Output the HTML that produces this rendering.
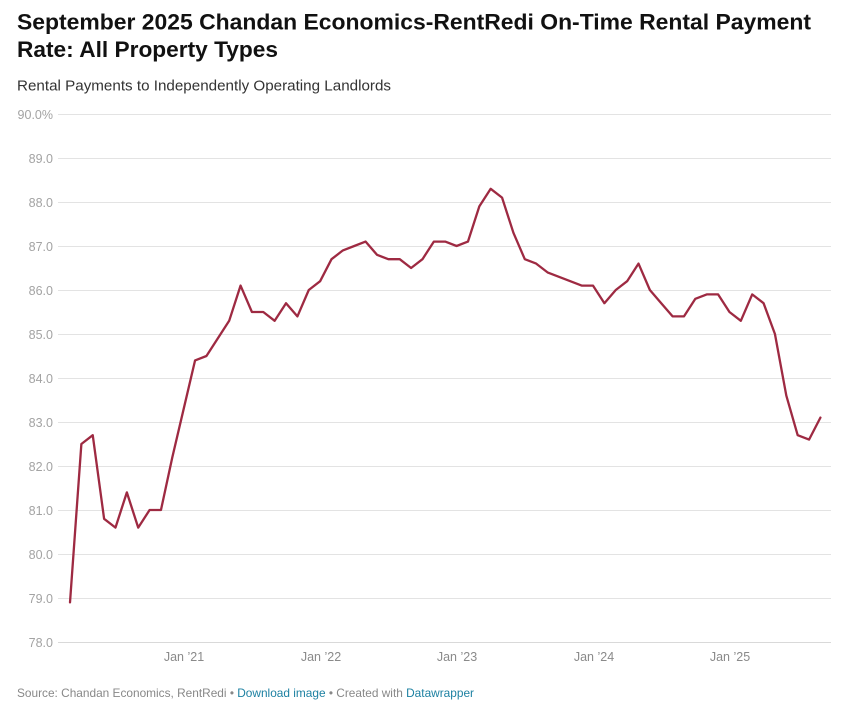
<!DOCTYPE html>
<html>
<head>
<meta charset="utf-8">
<style>
  html, body { margin:0; padding:0; background:#fff; }
  body { width:856px; height:706px; overflow:hidden; }
  svg { display:block; font-family:"Liberation Sans", Arial, sans-serif; }
</style>
</head>
<body>
<svg width="856" height="706" viewBox="0 0 856 706" xmlns="http://www.w3.org/2000/svg">
  <rect width="856" height="706" fill="#fff"/>
  <!-- Title -->
  <text x="17" y="29.5" font-size="22" font-weight="bold" fill="#111" textLength="794" lengthAdjust="spacingAndGlyphs">September 2025 Chandan Economics-RentRedi On-Time Rental Payment</text>
  <text x="17" y="57" font-size="22" font-weight="bold" fill="#111" textLength="261" lengthAdjust="spacingAndGlyphs">Rate: All Property Types</text>
  <!-- Subtitle -->
  <text x="17" y="90.5" font-size="14.5" fill="#333" textLength="374" lengthAdjust="spacingAndGlyphs">Rental Payments to Independently Operating Landlords</text>

  <!-- Gridlines -->
  <g stroke="#e3e3e3" stroke-width="1">
    <line x1="58" x2="831" y1="114.5" y2="114.5"/>
    <line x1="58" x2="831" y1="158.5" y2="158.5"/>
    <line x1="58" x2="831" y1="202.5" y2="202.5"/>
    <line x1="58" x2="831" y1="246.5" y2="246.5"/>
    <line x1="58" x2="831" y1="290.5" y2="290.5"/>
    <line x1="58" x2="831" y1="334.5" y2="334.5"/>
    <line x1="58" x2="831" y1="378.5" y2="378.5"/>
    <line x1="58" x2="831" y1="422.5" y2="422.5"/>
    <line x1="58" x2="831" y1="466.5" y2="466.5"/>
    <line x1="58" x2="831" y1="510.5" y2="510.5"/>
    <line x1="58" x2="831" y1="554.5" y2="554.5"/>
    <line x1="58" x2="831" y1="598.5" y2="598.5"/>
  </g>
  <line x1="58" x2="831" y1="642.5" y2="642.5" stroke="#d9d9d9" stroke-width="1"/>

  <!-- Y labels -->
  <g font-size="12.5" fill="#a3a3a3" text-anchor="end">
    <text x="53" y="119">90.0%</text>
    <text x="53" y="163">89.0</text>
    <text x="53" y="207">88.0</text>
    <text x="53" y="251">87.0</text>
    <text x="53" y="295">86.0</text>
    <text x="53" y="339">85.0</text>
    <text x="53" y="383">84.0</text>
    <text x="53" y="427">83.0</text>
    <text x="53" y="471">82.0</text>
    <text x="53" y="515">81.0</text>
    <text x="53" y="559">80.0</text>
    <text x="53" y="603">79.0</text>
    <text x="53" y="647">78.0</text>
  </g>

  <!-- X labels -->
  <g font-size="12.5" fill="#8a8a8a" text-anchor="middle">
    <text x="184" y="661">Jan ’21</text>
    <text x="321" y="661">Jan ’22</text>
    <text x="457" y="661">Jan ’23</text>
    <text x="594" y="661">Jan ’24</text>
    <text x="730" y="661">Jan ’25</text>
  </g>

  <!-- Series -->
  <polyline fill="none" stroke="#9e2a42" stroke-width="2.3" stroke-linejoin="round" stroke-linecap="round"
    points="70,602.4 81.37,444 92.74,435.2 104.11,518.8 115.48,527.6 126.85,492.4 138.22,527.6 149.59,510 160.96,510 172.33,457.2 183.7,408.8 195.07,360.4 206.44,356 217.81,338.4 229.18,320.8 240.55,285.6 251.92,312 263.29,312 274.66,320.8 286.03,303.2 297.4,316.4 308.77,290 320.14,281.2 331.51,259.2 342.88,250.4 354.25,246 365.62,241.6 376.99,254.8 388.36,259.2 399.73,259.2 411.1,268 422.47,259.2 433.84,241.6 445.21,241.6 456.58,246 467.95,241.6 479.32,206.4 490.69,188.8 502.06,197.6 513.43,232.8 524.8,259.2 536.17,263.6 547.54,272.4 558.91,276.8 570.28,281.2 581.65,285.6 593.02,285.6 604.39,303.2 615.76,290 627.13,281.2 638.5,263.6 649.87,290 661.24,303.2 672.61,316.4 683.98,316.4 695.35,298.8 706.72,294.4 718.09,294.4 729.46,312 740.83,320.8 752.2,294.4 763.57,303.2 774.94,334 786.31,395.6 797.68,435.2 809.05,439.6 820.42,417.6"/>

  <!-- Footer -->
  <text x="17" y="697" font-size="12" fill="#888" textLength="457" lengthAdjust="spacingAndGlyphs">Source: Chandan Economics, RentRedi • <tspan fill="#1d81a2">Download image</tspan> • Created with <tspan fill="#1d81a2">Datawrapper</tspan></text>
</svg>
</body>
</html>
